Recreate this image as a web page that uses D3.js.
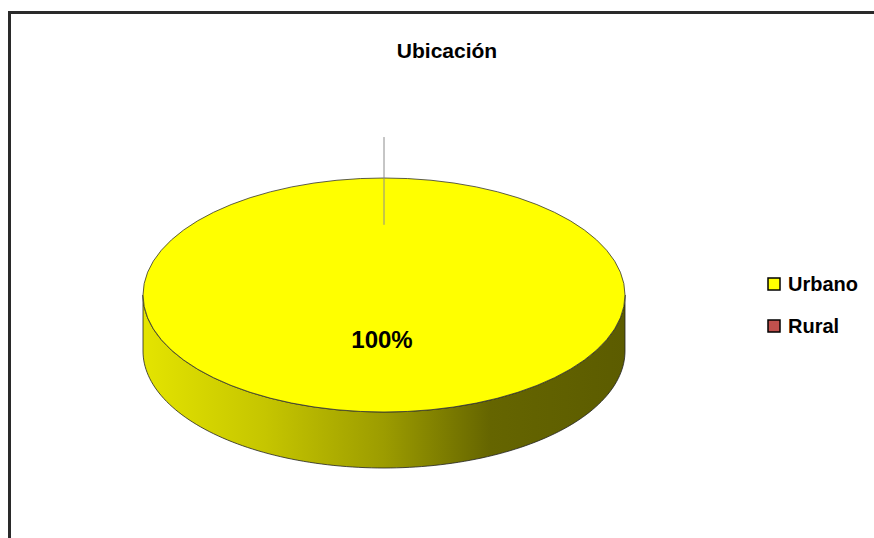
<!DOCTYPE html>
<html><head><meta charset="utf-8">
<script src="https://cdn.jsdelivr.net/npm/d3@7"></script>
<style>body{margin:0;background:#fff}svg{display:block}</style>
</head><body>
<svg id="chart" width="874" height="538"></svg>
<script>
(function(){
const title = "Ubicación";
const categories = ["Urbano", "Rural"];
const values = [1.00, 0.00];
const colors = ["#ffff00", "#c0504d"];

const svg = d3.select("#chart");
const cx = 384, cy = 295, rx = 241, ry = 117, depth = 56;
const k = ry / rx;

// frame
svg.append("rect").attr("x", 9.5).attr("y", 12.5).attr("width", 900).attr("height", 600)
  .attr("fill", "#fff").attr("stroke", "#2a2a2a").attr("stroke-width", 3);

svg.append("text").attr("x", 447).attr("y", 58).attr("text-anchor", "middle")
  .attr("font-family", "Liberation Sans, Arial, sans-serif").attr("font-weight", "bold")
  .attr("font-size", 21).attr("fill", "#000").text(title);

const defs = svg.append("defs");
const grad = defs.append("linearGradient").attr("id", "side").attr("gradientUnits", "userSpaceOnUse")
  .attr("x1", cx - rx).attr("x2", cx + rx).attr("y1", 0).attr("y2", 0);
[[0, "#e4e400"], [0.25, "#c6c600"], [0.5, "#9c9c00"], [0.72, "#656500"], [1, "#5c5c00"]]
  .forEach(([o, c]) => grad.append("stop").attr("offset", o).attr("stop-color", c));

const pie = d3.pie().sort(null).value(d => d)(values);
const arc = d3.arc().innerRadius(0).outerRadius(rx);

// side wall (front half of ellipse)
const sidePts = [];
const n = 120;
for (let i = 0; i <= n; i++) { const a = Math.PI * i / n; sidePts.push([cx - rx * Math.cos(a), cy + ry * Math.sin(a)]); }
for (let i = n; i >= 0; i--) { const a = Math.PI * i / n; sidePts.push([cx - rx * Math.cos(a), cy + depth + ry * Math.sin(a)]); }
svg.append("path").attr("d", d3.line()(sidePts) + "Z")
  .attr("fill", "url(#side)").attr("stroke", "#222").attr("stroke-width", 0.8);

// top face
const topG = svg.append("g").attr("transform", `translate(${cx},${cy}) scale(1,${k})`);
topG.selectAll("path").data(pie.filter(d => d.value > 0)).join("path")
  .attr("d", arc).attr("fill", (d) => colors[d.index])
  .attr("stroke", "#333").attr("stroke-width", 0.8).attr("vector-effect", "non-scaling-stroke");

// leader line for zero slice
const zero = pie[1];
const ang = zero.startAngle;
const p = r => [cx + r * Math.sin(ang), cy - r * Math.cos(ang) * k];
const [lx1, ly1] = p(rx * 0.6), [lx2, ly2] = p(rx * 1.35);
svg.append("line").attr("x1", lx1).attr("y1", ly1).attr("x2", lx2).attr("y2", ly2)
  .attr("stroke", "#8c8c8c").attr("stroke-width", 1);

// label
const lab = d3.arc().innerRadius(rx * 0.38).outerRadius(rx * 0.38);
pie.filter(d => d.value > 0).forEach(d => {
  const [x, y] = lab.centroid(d);
  svg.append("text").attr("x", cx + x - 2).attr("y", cy + y * k + 9).attr("text-anchor", "middle")
    .attr("font-family", "Liberation Sans, Arial, sans-serif").attr("font-weight", "bold")
    .attr("font-size", 24).attr("fill", "#000").text(d3.format(".0%")(d.value));
});

// legend
const lg = svg.append("g");
categories.forEach((c, i) => {
  const y = 278 + i * 42;
  lg.append("rect").attr("x", 768).attr("y", y).attr("width", 12).attr("height", 12)
    .attr("fill", colors[i]).attr("stroke", "#000").attr("stroke-width", 1.5);
  lg.append("text").attr("x", 788).attr("y", y + 13)
    .attr("font-family", "Liberation Sans, Arial, sans-serif").attr("font-weight", "bold")
    .attr("font-size", 20).attr("fill", "#000").text(c);
});
})();
</script>
</body></html>
